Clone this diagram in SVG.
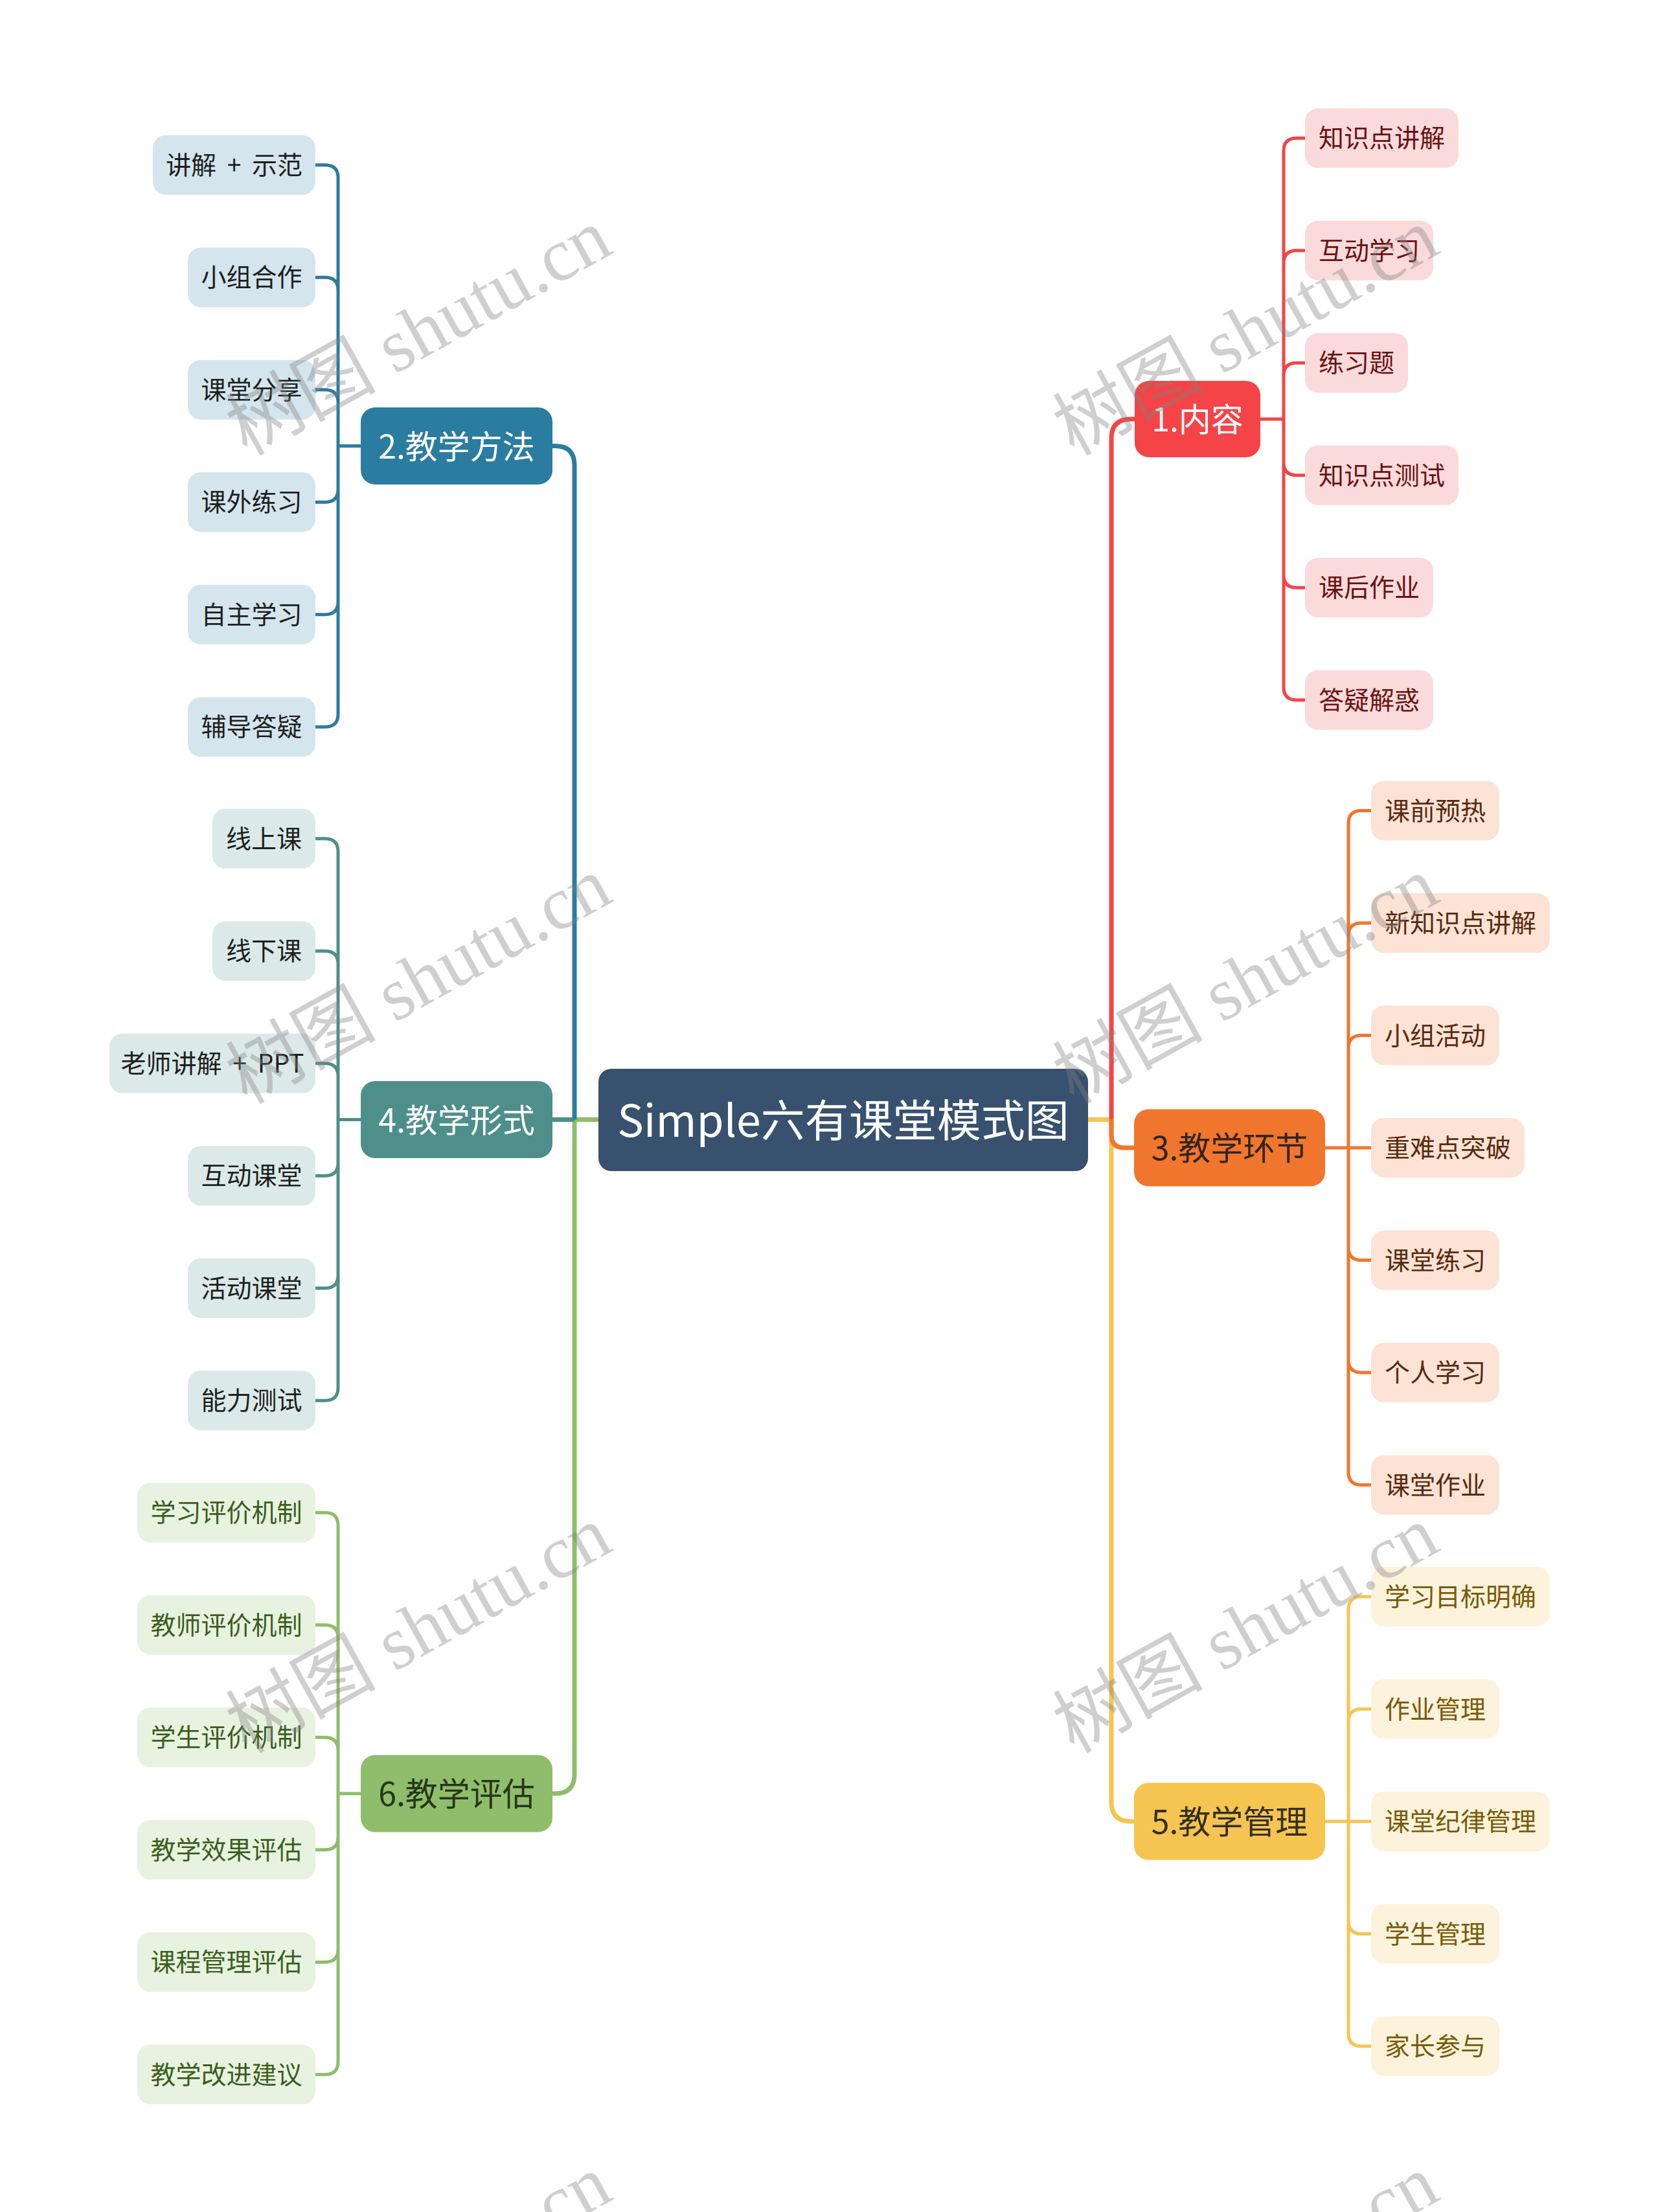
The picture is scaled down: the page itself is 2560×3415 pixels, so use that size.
<svg xmlns="http://www.w3.org/2000/svg" width="2560" height="3415" viewBox="0 0 2560 3415">
<style>
text{font-family:"Noto Sans CJK SC","Noto Sans",sans-serif;text-anchor:middle}
.main{font-size:50px}
.leaf{font-size:39px}
.c{fill:none;stroke-linejoin:round}
.m{stroke-width:7}
.s{stroke-width:5}
.wm{font-family:"Liberation Serif","Noto Sans CJK SC",serif;font-size:116px;fill:#808080;fill-opacity:0.38;text-anchor:middle}
.lr rect{fill:#FBDADB}.lr text{fill:#6B1212}
.lb rect{fill:#D4E5ED}.lb text{fill:#1F1F1F}
.lo rect{fill:#FCE3D5}.lo text{fill:#5A2A10}
.lt rect{fill:#DBE9E8}.lt text{fill:#1F1F1F}
.ly rect{fill:#FDF3DC}.ly text{fill:#7A5A0A}
.lg rect{fill:#E8F2E0}.lg text{fill:#3C5E1E}
</style>
<rect width="2560" height="3415" fill="#FFFFFF"/>
<g id="connectors">
<path class="c m" stroke="#F6C451" d="M1680 1728.5 H1716 V2782 Q1716 2812 1746 2812 H1752"/>
<path class="c m" stroke="#F0762E" d="M1716 1728.5 V1752 Q1716 1772 1736 1772 H1752"/>
<path class="c m" stroke="#F44447" d="M1716 1728.5 V677 Q1716 647 1746 647 H1752"/>
<path class="c m" stroke="#8FBD6B" d="M924 1728.5 H887 V2739 Q887 2769 857 2769 H853"/>
<path class="c m" stroke="#4E8F8B" d="M887 1728.5 H853"/>
<path class="c m" stroke="#2A7CA1" d="M887 1728.5 V718.5 Q887 688.5 857 688.5 H853"/>
<path class="c s" stroke="#F44447" d="M1946 647 H1982 V233.25 Q1982 213.25 2002 213.25 H2015 M1946 647 H1982 V406.75 Q1982 386.75 2002 386.75 H2015 M1946 647 H1982 V580.25 Q1982 560.25 2002 560.25 H2015 M1946 647 H1982 V713.75 Q1982 733.75 2002 733.75 H2015 M1946 647 H1982 V887.25 Q1982 907.25 2002 907.25 H2015 M1946 647 H1982 V1060.75 Q1982 1080.75 2002 1080.75 H2015"/>
<path class="c s" stroke="#2A7CA1" d="M557 688.5 H522 V274.75 Q522 254.75 502 254.75 H487 M557 688.5 H522 V448.25 Q522 428.25 502 428.25 H487 M557 688.5 H522 V621.75 Q522 601.75 502 601.75 H487 M557 688.5 H522 V755.25 Q522 775.25 502 775.25 H487 M557 688.5 H522 V928.75 Q522 948.75 502 948.75 H487 M557 688.5 H522 V1102.25 Q522 1122.25 502 1122.25 H487"/>
<path class="c s" stroke="#4E8F8B" d="M557 1728.5 H522 V1314.75 Q522 1294.75 502 1294.75 H487 M557 1728.5 H522 V1488.25 Q522 1468.25 502 1468.25 H487 M557 1728.5 H522 V1661.75 Q522 1641.75 502 1641.75 H487 M557 1728.5 H522 V1795.25 Q522 1815.25 502 1815.25 H487 M557 1728.5 H522 V1968.75 Q522 1988.75 502 1988.75 H487 M557 1728.5 H522 V2142.25 Q522 2162.25 502 2162.25 H487"/>
<path class="c s" stroke="#8FBD6B" d="M557 2769 H522 V2355.25 Q522 2335.25 502 2335.25 H487 M557 2769 H522 V2528.75 Q522 2508.75 502 2508.75 H487 M557 2769 H522 V2702.25 Q522 2682.25 502 2682.25 H487 M557 2769 H522 V2835.75 Q522 2855.75 502 2855.75 H487 M557 2769 H522 V3009.25 Q522 3029.25 502 3029.25 H487 M557 2769 H522 V3182.75 Q522 3202.75 502 3202.75 H487"/>
<path class="c s" stroke="#F0762E" d="M2046 1772 H2082 V1271.5 Q2082 1251.5 2102 1251.5 H2117 M2046 1772 H2082 V1445 Q2082 1425 2102 1425 H2117 M2046 1772 H2082 V1618.5 Q2082 1598.5 2102 1598.5 H2117 M2046 1772 H2117 M2046 1772 H2082 V1925.5 Q2082 1945.5 2102 1945.5 H2117 M2046 1772 H2082 V2099 Q2082 2119 2102 2119 H2117 M2046 1772 H2082 V2272.5 Q2082 2292.5 2102 2292.5 H2117"/>
<path class="c s" stroke="#F6C451" d="M2046 2812 H2082 V2485 Q2082 2465 2102 2465 H2117 M2046 2812 H2082 V2658.5 Q2082 2638.5 2102 2638.5 H2117 M2046 2812 H2117 M2046 2812 H2082 V2965.5 Q2082 2985.5 2102 2985.5 H2117 M2046 2812 H2082 V3139 Q2082 3159 2102 3159 H2117"/>
</g>
<g id="root"><rect x="924" y="1650" width="756" height="158" rx="20" fill="#37516E"/><text x="1302" y="1755" font-size="68" fill="#FFFFFF">Simple六有课堂模式图</text></g>
<g id="b1"><rect x="1752" y="588" width="194" height="118" rx="22" fill="#F44447"/><text class="main" x="1849" y="666" fill="#FFFFFF">1.内容</text></g>
<g id="b2"><rect x="557" y="629" width="296" height="119" rx="22" fill="#2A7CA1"/><text class="main" x="705" y="707.5" fill="#FFFFFF">2.教学方法</text></g>
<g id="b3"><rect x="1751" y="1712.5" width="295" height="119" rx="22" fill="#F0762E"/><text class="main" x="1898.5" y="1791" fill="#33241A">3.教学环节</text></g>
<g id="b4"><rect x="557" y="1669" width="296" height="119" rx="22" fill="#4E8F8B"/><text class="main" x="705" y="1747.5" fill="#FFFFFF">4.教学形式</text></g>
<g id="b5"><rect x="1751" y="2752.5" width="295" height="119" rx="22" fill="#F6C451"/><text class="main" x="1898.5" y="2831" fill="#33301E">5.教学管理</text></g>
<g id="b6"><rect x="557" y="2709.5" width="296" height="119" rx="22" fill="#8FBD6B"/><text class="main" x="705" y="2788" fill="#26361A">6.教学评估</text></g>
<g class="lr">
<g id="r1"><rect x="2015" y="167.25" width="237" height="92" rx="20"/><text class="leaf" x="2133.5" y="227.25">知识点讲解</text></g>
<g id="r2"><rect x="2015" y="340.75" width="198" height="92" rx="20"/><text class="leaf" x="2114" y="400.75">互动学习</text></g>
<g id="r3"><rect x="2015" y="514.25" width="159" height="92" rx="20"/><text class="leaf" x="2094.5" y="574.25">练习题</text></g>
<g id="r4"><rect x="2015" y="687.75" width="237" height="92" rx="20"/><text class="leaf" x="2133.5" y="747.75">知识点测试</text></g>
<g id="r5"><rect x="2015" y="861.25" width="198" height="92" rx="20"/><text class="leaf" x="2114" y="921.25">课后作业</text></g>
<g id="r6"><rect x="2015" y="1034.75" width="198" height="92" rx="20"/><text class="leaf" x="2114" y="1094.75">答疑解惑</text></g>
</g>
<g class="lb">
<g id="l1"><rect x="236" y="208.75" width="251" height="92" rx="20"/><text class="leaf" x="361.5" y="268.75">讲解 <tspan dx="8">+</tspan> <tspan dx="8">示范</tspan></text></g>
<g id="l2"><rect x="290" y="382.25" width="197" height="92" rx="20"/><text class="leaf" x="388.5" y="442.25">小组合作</text></g>
<g id="l3"><rect x="290" y="555.75" width="197" height="92" rx="20"/><text class="leaf" x="388.5" y="615.75">课堂分享</text></g>
<g id="l4"><rect x="290" y="729.25" width="197" height="92" rx="20"/><text class="leaf" x="388.5" y="789.25">课外练习</text></g>
<g id="l5"><rect x="290" y="902.75" width="197" height="92" rx="20"/><text class="leaf" x="388.5" y="962.75">自主学习</text></g>
<g id="l6"><rect x="290" y="1076.25" width="197" height="92" rx="20"/><text class="leaf" x="388.5" y="1136.25">辅导答疑</text></g>
</g>
<g class="lt">
<g id="t1"><rect x="328" y="1248.75" width="159" height="92" rx="20"/><text class="leaf" x="407.5" y="1308.75">线上课</text></g>
<g id="t2"><rect x="328" y="1422.25" width="159" height="92" rx="20"/><text class="leaf" x="407.5" y="1482.25">线下课</text></g>
<g id="t3"><rect x="169" y="1595.75" width="318" height="92" rx="20"/><text class="leaf" x="328" y="1655.75">老师讲解 <tspan dx="8">+</tspan> <tspan dx="8">PPT</tspan></text></g>
<g id="t4"><rect x="290" y="1769.25" width="197" height="92" rx="20"/><text class="leaf" x="388.5" y="1829.25">互动课堂</text></g>
<g id="t5"><rect x="290" y="1942.75" width="197" height="92" rx="20"/><text class="leaf" x="388.5" y="2002.75">活动课堂</text></g>
<g id="t6"><rect x="290" y="2116.25" width="197" height="92" rx="20"/><text class="leaf" x="388.5" y="2176.25">能力测试</text></g>
</g>
<g class="lg">
<g id="g1"><rect x="212" y="2289.25" width="275" height="92" rx="20"/><text class="leaf" x="349.5" y="2349.25">学习评价机制</text></g>
<g id="g2"><rect x="212" y="2462.75" width="275" height="92" rx="20"/><text class="leaf" x="349.5" y="2522.75">教师评价机制</text></g>
<g id="g3"><rect x="212" y="2636.25" width="275" height="92" rx="20"/><text class="leaf" x="349.5" y="2696.25">学生评价机制</text></g>
<g id="g4"><rect x="212" y="2809.75" width="275" height="92" rx="20"/><text class="leaf" x="349.5" y="2869.75">教学效果评估</text></g>
<g id="g5"><rect x="212" y="2983.25" width="275" height="92" rx="20"/><text class="leaf" x="349.5" y="3043.25">课程管理评估</text></g>
<g id="g6"><rect x="212" y="3156.75" width="275" height="92" rx="20"/><text class="leaf" x="349.5" y="3216.75">教学改进建议</text></g>
</g>
<g class="lo">
<g id="o1"><rect x="2117" y="1205.5" width="198" height="92" rx="20"/><text class="leaf" x="2216" y="1265.5">课前预热</text></g>
<g id="o2"><rect x="2117" y="1379" width="276" height="92" rx="20"/><text class="leaf" x="2255" y="1439">新知识点讲解</text></g>
<g id="o3"><rect x="2117" y="1552.5" width="198" height="92" rx="20"/><text class="leaf" x="2216" y="1612.5">小组活动</text></g>
<g id="o4"><rect x="2117" y="1726" width="237" height="92" rx="20"/><text class="leaf" x="2235.5" y="1786">重难点突破</text></g>
<g id="o5"><rect x="2117" y="1899.5" width="198" height="92" rx="20"/><text class="leaf" x="2216" y="1959.5">课堂练习</text></g>
<g id="o6"><rect x="2117" y="2073" width="198" height="92" rx="20"/><text class="leaf" x="2216" y="2133">个人学习</text></g>
<g id="o7"><rect x="2117" y="2246.5" width="198" height="92" rx="20"/><text class="leaf" x="2216" y="2306.5">课堂作业</text></g>
</g>
<g class="ly">
<g id="y1"><rect x="2117" y="2419" width="276" height="92" rx="20"/><text class="leaf" x="2255" y="2479">学习目标明确</text></g>
<g id="y2"><rect x="2117" y="2592.5" width="198" height="92" rx="20"/><text class="leaf" x="2216" y="2652.5">作业管理</text></g>
<g id="y3"><rect x="2117" y="2766" width="276" height="92" rx="20"/><text class="leaf" x="2255" y="2826">课堂纪律管理</text></g>
<g id="y4"><rect x="2117" y="2939.5" width="198" height="92" rx="20"/><text class="leaf" x="2216" y="2999.5">学生管理</text></g>
<g id="y5"><rect x="2117" y="3113" width="198" height="92" rx="20"/><text class="leaf" x="2216" y="3173">家长参与</text></g>
</g>
<g id="watermarks">
<g transform="translate(646,512) rotate(-29)"><text class="wm" x="0" y="40">树图 shutu.cn</text></g>
<g transform="translate(1923,512) rotate(-29)"><text class="wm" x="0" y="40">树图 shutu.cn</text></g>
<g transform="translate(646,1513) rotate(-29)"><text class="wm" x="0" y="40">树图 shutu.cn</text></g>
<g transform="translate(1923,1513) rotate(-29)"><text class="wm" x="0" y="40">树图 shutu.cn</text></g>
<g transform="translate(646,2515) rotate(-29)"><text class="wm" x="0" y="40">树图 shutu.cn</text></g>
<g transform="translate(1923,2515) rotate(-29)"><text class="wm" x="0" y="40">树图 shutu.cn</text></g>
<g transform="translate(646,3517) rotate(-29)"><text class="wm" x="0" y="40">树图 shutu.cn</text></g>
<g transform="translate(1923,3517) rotate(-29)"><text class="wm" x="0" y="40">树图 shutu.cn</text></g>
</g>
</svg>
